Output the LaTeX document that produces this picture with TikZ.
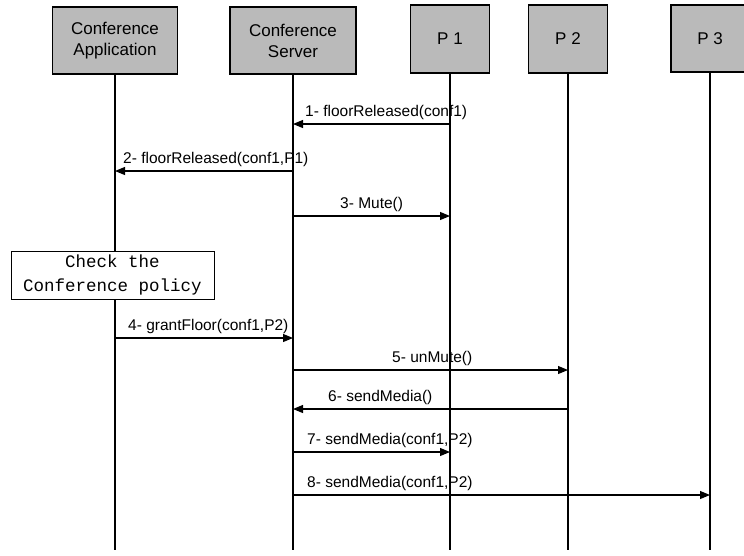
\documentclass[tikz,border=0pt]{standalone}
\usepackage{fontspec}
\setmainfont{Liberation Sans}
\newfontfamily\monofont{Liberation Mono}
\usetikzlibrary{arrows.meta}
\begin{document}
\begin{tikzpicture}[x=1pt,y=-1pt,
  actor/.style={draw, line width=1.2pt, fill=black!27, minimum width=#1, minimum height=67pt, inner sep=0pt, align=center, font=\fontsize{17}{21}\selectfont},
  life/.style={line width=1.2pt},
  msg/.style={line width=1.1pt, -{Triangle[length=10pt,width=8pt]}},
  lbl/.style={inner sep=0pt, font=\fontsize{15.5}{18}\selectfont},
  note/.style={draw, line width=1pt, fill=white, minimum width=203pt, minimum height=48pt, inner sep=0pt, align=center, font=\monofont\fontsize{17.5}{24}\selectfont}]
\useasboundingbox (0,0) rectangle (744,555);
\clip (0,0) rectangle (744,555);
\fill[white] (0,0) rectangle (744,555);
% actors
\node[actor=125pt] (app) at (115,40.5) {Conference\\Application};
\node[actor=126pt] (srv) at (293,40.5) {Conference\\Server};
\node[actor=79pt, minimum height=68pt] (p1) at (450,39) {P 1};
\node[actor=79pt, minimum height=68pt] (p2) at (568,39) {P 2};
\node[actor=78pt, minimum height=67pt] (p3) at (710,38.5) {P 3};
% lifelines
\coordinate (appE) at (115,550);
\coordinate (srvE) at (293,550);
\coordinate (p1E) at (450,550);
\coordinate (p2E) at (568,550);
\coordinate (p3E) at (710,550);
\draw[life] (app.south) -- (appE);
\draw[life] (srv.south) -- (srvE);
\draw[life] (p1.south) -- (p1E);
\draw[life] (p2.south) -- (p2E);
\draw[life] (p3.south) -- (p3E);
% note
\node[note] (chk) at (112.5,275) {Check the\\Conference policy};
% messages
\draw[msg] (p1 |- 0,124) -- (srv |- 0,124);
\node[lbl, anchor=base west] (l1) at (305,116.5) {1- floorReleased(conf1)};
\draw[msg] (srv |- 0,171) -- (app |- 0,171);
\node[lbl, anchor=base west] (l2) at (123,163) {2- floorReleased(conf1,P1)};
\draw[msg] (srv |- 0,216) -- (p1 |- 0,216);
\node[lbl, anchor=base west] (l3) at (340,208) {3- Mute()};
\draw[msg] (app |- 0,338) -- (srv |- 0,338);
\node[lbl, anchor=base west] (l4) at (128,330) {4- grantFloor(conf1,P2)};
\draw[msg] (srv |- 0,370) -- (p2 |- 0,370);
\node[lbl, anchor=base west] (l5) at (392,362) {5- unMute()};
\draw[msg] (p2 |- 0,409) -- (srv |- 0,409);
\node[lbl, anchor=base west] (l6) at (328,401) {6- sendMedia()};
\draw[msg] (srv |- 0,452) -- (p1 |- 0,452);
\node[lbl, anchor=base west] (l7) at (307,444) {7- sendMedia(conf1,P2)};
\draw[msg] (srv |- 0,495) -- (p3 |- 0,495);
\node[lbl, anchor=base west] (l8) at (307,487) {8- sendMedia(conf1,P2)};
\end{tikzpicture}
\end{document}
